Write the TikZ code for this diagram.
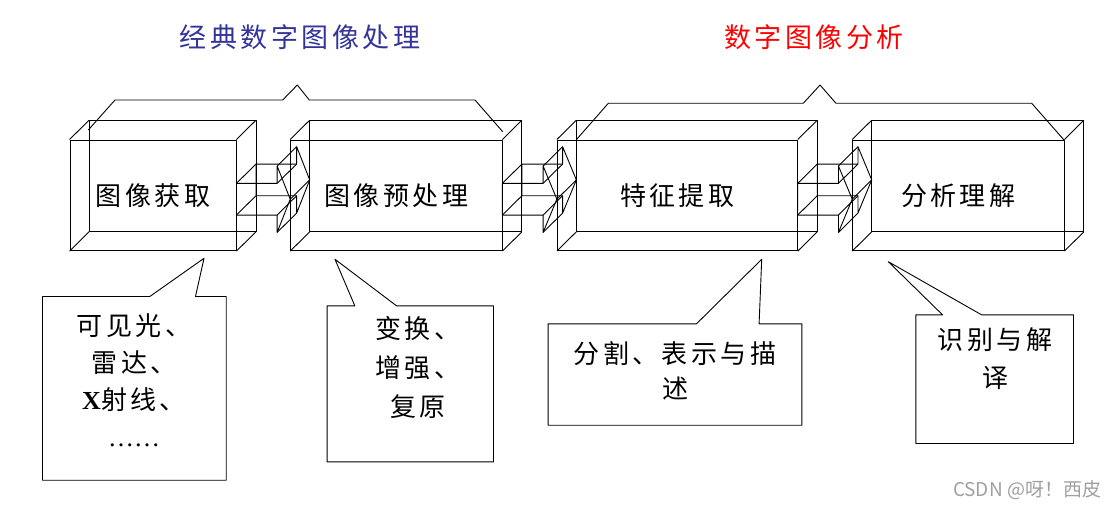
\documentclass[tikz,border=0pt]{standalone}
\usepackage{fontspec}
\setmainfont{Liberation Serif}
\newfontfamily\cjk[LetterSpace=13]{Noto Sans CJK SC}
\newfontfamily\cjkplain{Noto Sans CJK SC}
\usetikzlibrary{calc}
\definecolor{titleblue}{RGB}{51, 51, 153}
\definecolor{titlered}{RGB}{255, 0, 0}
\definecolor{markgray}{RGB}{160, 160, 160}
\newcommand{\depx}{19.5}
\newcommand{\depy}{-19.3}
\tikzset{
    wire/.style={line width=0.9pt, line join=round},
    stage/.style={rectangle, draw, wire, inner sep=0pt, minimum height=110.7pt, font=\cjk\fontsize{26}{30}\selectfont},
    callout/.style={rectangle, inner sep=0pt},
    note/.style={align=center, font=\cjk\fontsize{26}{37}\selectfont},
    title/.style={font=\cjk\fontsize{27}{30}\selectfont}
}
% back face and depth edges of a stage box
\newcommand{\stagedepth}[1]{%
    \draw [wire] ([shift={(\depx,\depy)}]#1.north west) rectangle ([shift={(\depx,\depy)}]#1.south east);
    \foreach \c in {north west, north east, south east, south west}
        \draw [wire] (#1.\c) -- ++(\depx,\depy);
}
% hollow 3d arrow from one stage to the next
\newcommand{\flowarrow}[2]{%
    \coordinate (p1) at ([shift={(0,-11.95)}]#1.east);
    \coordinate (p2) at ([shift={(40.7,-11.95)}]#1.east);
    \coordinate (p3) at ([shift={(40.7,-29.3)}]#1.east);
    \coordinate (p4) at ([shift={(0,3.9)}]#2.west);
    \coordinate (p5) at ([shift={(40.7,37.1)}]#1.east);
    \coordinate (p6) at ([shift={(40.7,19.75)}]#1.east);
    \coordinate (p7) at ([shift={(0,19.75)}]#1.east);
    \draw [wire] (p1) -- (p2) -- (p3) -- (p4) -- (p5) -- (p6) -- (p7) -- cycle;
    \draw [wire] ([shift={(\depx,\depy)}]p1) -- ([shift={(\depx,\depy)}]p2) -- ([shift={(\depx,\depy)}]p3)
        -- ([shift={(\depx,\depy)}]p4) -- ([shift={(\depx,\depy)}]p5) -- ([shift={(\depx,\depy)}]p6)
        -- ([shift={(\depx,\depy)}]p7) -- cycle;
    \foreach \k in {1,...,7}
        \draw [wire] (p\k) -- ++(\depx,\depy);
}

\begin{document}
\begin{tikzpicture}[x=1pt, y=-1pt]
    \useasboundingbox (0,0) rectangle (1118,508);

    % titles and brackets
    \node (classic) [title, text=titleblue] at (300,37) {经典数字图像处理};
    \node (analysis) [title, text=titlered] at (814,37) {数字图像分析};
    \draw [wire] (88.3,130) -- (115,100) -- (282.7,100) -- (297.3,85) -- (309.3,100) -- (475,100) -- (502.7,131.7);
    \draw [wire] (576.7,139.3) -- (608.3,103.3) -- (803.3,103.3) -- (820,85) -- (836,103.3) -- (1031.7,103.3) -- (1064,140);

    % stages
    \node (acq) [stage, minimum width=166pt] at (153,195.3) {\raisebox{-3pt}{图像获取}};
    \node (prep) [stage, minimum width=211.3pt] at (396.3,195.3) {\raisebox{-3pt}{图像预处理}};
    \node (feat) [stage, minimum width=240pt] at (677.3,195.3) {\raisebox{-3pt}{特征提取}};
    \node (ana) [stage, minimum width=211.3pt] at (958.3,195.3) {\raisebox{-3pt}{分析理解}};
    \stagedepth{acq}
    \stagedepth{prep}
    \stagedepth{feat}
    \stagedepth{ana}

    \flowarrow{acq}{prep}
    \flowarrow{prep}{feat}
    \flowarrow{feat}{ana}

    % callouts
    \node (acqnote) [callout, minimum width=183.3pt, minimum height=183.3pt] at (134.35,388.35) {};
    \coordinate (acqtip) at (204,258.3);
    \draw [wire] (acqnote.north west) -- ([xshift=107.3pt]acqnote.north west) -- (acqtip)
        -- ([xshift=153pt]acqnote.north west) -- (acqnote.north east) -- (acqnote.south east) -- (acqnote.south west) -- cycle;
    \node (acqtext) [note] at (134,380) {可见光、\\雷达、\\{\rmfamily\bfseries X}射线、\\{\rmfamily ……}};

    \node (prepnote) [callout, minimum width=166pt, minimum height=155.7pt] at (410.3,383.85) {};
    \coordinate (preptip) at (335,259.3);
    \draw [wire] (prepnote.north west) -- ([xshift=27.7pt]prepnote.north west) -- (preptip)
        -- ([xshift=69.4pt]prepnote.north west) -- (prepnote.north east) -- (prepnote.south east) -- (prepnote.south west) -- cycle;
    \node (preptext) [note, font=\cjk\fontsize{26}{39}\selectfont] at (418,367) {变换、\\增强、\\复原};

    \node (featnote) [callout, minimum width=253.4pt, minimum height=101pt] at (675,374.5) {};
    \coordinate (feattip) at (761.7,259.3);
    \draw [wire] (featnote.north west) -- ([xshift=148.4pt]featnote.north west) -- (feattip)
        -- ([xshift=211pt]featnote.north west) -- (featnote.north east) -- (featnote.south east) -- (featnote.south west) -- cycle;
    \node (feattext) [note, font=\cjk\fontsize{26}{35}\selectfont] at (675,370.5) {分割、表示与描\\述};

    \node (ananote) [callout, minimum width=157.3pt, minimum height=128.3pt] at (994.65,379.15) {};
    \coordinate (anatip) at (888.3,261.7);
    \draw [wire] (ananote.north west) -- ([xshift=26.7pt]ananote.north west) -- (anatip)
        -- ([xshift=65.7pt]ananote.north west) -- (ananote.north east) -- (ananote.south east) -- (ananote.south west) -- cycle;
    \node (anatext) [note, font=\cjk\fontsize{26}{38}\selectfont] at (995,359) {识别与解\\译};

    \node (mark) [font=\cjkplain\fontsize{19}{22}\selectfont, text=markgray] at (1027,490) {CSDN @呀！西皮};
\end{tikzpicture}
\end{document}
